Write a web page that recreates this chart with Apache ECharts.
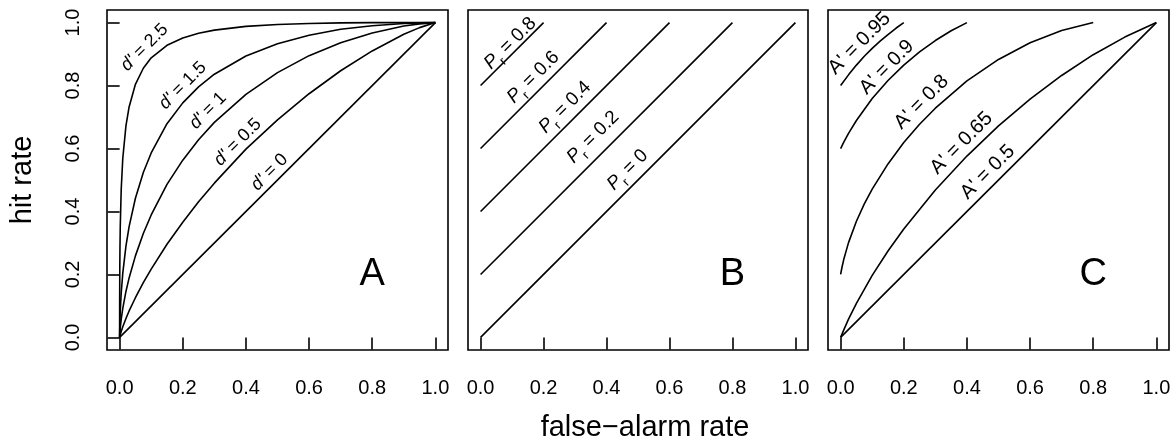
<!DOCTYPE html>
<html>
<head>
<meta charset="utf-8">
<script src="https://cdn.jsdelivr.net/npm/echarts@6/dist/echarts.min.js"></script>
<style>
  html, body { margin: 0; padding: 0; background: #fff; }
  #chart { width: 1175px; height: 447px; }
</style>
</head>
<body>
<div id="chart"></div>
<script>
// tick positions shared by every axis
const tickValues = [0, 0.2, 0.4, 0.6, 0.8, 1];

// panel A: ROC curves for several d'
const faGrid = [0, 0.00001, 0.0001, 0.0005, 0.001, 0.002, 0.005, 0.01, 0.02, 0.03, 0.05, 0.075, 0.1, 0.15, 0.2, 0.25, 0.3, 0.4, 0.5, 0.6, 0.7, 0.8, 0.9, 0.95, 1];
const hitD25 = [0, 0.039, 0.111, 0.215, 0.278, 0.353, 0.470, 0.569, 0.672, 0.732, 0.804, 0.855, 0.888, 0.928, 0.951, 0.966, 0.976, 0.988, 0.994, 0.997, 0.999, 1, 1, 1, 1];
const hitD15 = [0, 0.0028, 0.013, 0.037, 0.056, 0.084, 0.141, 0.204, 0.290, 0.352, 0.442, 0.524, 0.586, 0.679, 0.745, 0.796, 0.836, 0.894, 0.933, 0.960, 0.979, 0.990, 0.997, 0.999, 1];
const hitD10 = [0, 0.0005, 0.0033, 0.011, 0.018, 0.030, 0.058, 0.092, 0.146, 0.189, 0.259, 0.330, 0.389, 0.486, 0.563, 0.628, 0.683, 0.772, 0.841, 0.895, 0.936, 0.967, 0.989, 0.996, 1];
const hitD05 = [0, 0.0001, 0.0006, 0.0026, 0.005, 0.0087, 0.019, 0.034, 0.060, 0.084, 0.126, 0.174, 0.217, 0.296, 0.366, 0.431, 0.490, 0.598, 0.691, 0.774, 0.847, 0.910, 0.963, 0.984, 1];
const diagFa = [0, 1];
const diagHit = [0, 1];

const dLabels = ['2.5', '1.5', '1', '0.5', '0'];
const dLabelFa = [0.079, 0.20, 0.28, 0.374, 0.475];
const dLabelHit = [0.921, 0.80, 0.72, 0.62, 0.525];

// panel B: Pr lines, start and end points
const prStartFa = [0, 0, 0, 0, 0];
const prStartHit = [0, 0.2, 0.4, 0.6, 0.8];
const prEndFa = [1, 0.8, 0.6, 0.4, 0.2];
const prEndHit = [1, 1, 1, 1, 1];

const prLabels = ['0.8', '0.6', '0.4', '0.2', '0'];
const prLabelFa = [0.094, 0.167, 0.268, 0.357, 0.467];
const prLabelHit = [0.934, 0.826, 0.731, 0.636, 0.532];

// panel C: A' iso-curves
const a95Fa = [0, 0.025, 0.05, 0.075, 0.1, 0.125, 0.15, 0.175, 0.2];
const a95Hit = [0.8, 0.834, 0.865, 0.893, 0.918, 0.941, 0.962, 0.982, 1];
const a90Fa = [0, 0.01, 0.025, 0.05, 0.1, 0.15, 0.2, 0.25, 0.3, 0.35, 0.4];
const a90Hit = [0.6, 0.620, 0.648, 0.689, 0.759, 0.816, 0.865, 0.907, 0.943, 0.974, 1];
const a80Fa = [0, 0.002, 0.005, 0.01, 0.025, 0.05, 0.075, 0.1, 0.15, 0.2, 0.25, 0.3, 0.4, 0.5, 0.6, 0.7, 0.8];
const a80Hit = [0.2, 0.211, 0.226, 0.248, 0.301, 0.369, 0.424, 0.471, 0.551, 0.619, 0.677, 0.728, 0.815, 0.883, 0.936, 0.975, 1];
const a65Fa = [0, 0.01, 0.025, 0.05, 0.1, 0.15, 0.2, 0.3, 0.4, 0.5, 0.6, 0.7, 0.8, 0.9, 1];
const a65Hit = [0, 0.024, 0.058, 0.108, 0.197, 0.2745, 0.3445, 0.468, 0.576, 0.672, 0.757, 0.832, 0.898, 0.954, 1];

const aLabels = ['0.95', '0.9', '0.8', '0.65', '0.5'];
const aLabelFa = [0.06, 0.146, 0.256, 0.383, 0.466];
const aLabelHit = [0.934, 0.858, 0.747, 0.617, 0.525];

const panelLetters = ['A', 'B', 'C'];
const letterFa = 0.8;
const letterHit = 0.2;

const FONT = '"Liberation Sans", Arial, Helvetica, sans-serif';

const zip = (xs, ys) => xs.map((x, i) => [x, ys[i]]);

const curve = (idx, xs, ys) => ({
    type: 'line',
    xAxisIndex: idx,
    yAxisIndex: idx,
    data: zip(xs, ys),
    showSymbol: false,
    symbol: 'none',
    lineStyle: { color: '#000', width: 1.6 },
    silent: true,
    z: 2,
});

// text placed at data coordinates, drawn by a custom series
const textSeries = (idx, xs, ys, texts, opts) => ({
    type: 'custom',
    xAxisIndex: idx,
    yAxisIndex: idx,
    silent: true,
    z: 5,
    data: zip(xs, ys),
    renderItem: (params, api) => {
        const pt = api.coord([api.value(0), api.value(1)]);
        return {
            type: 'text',
            x: pt[0],
            y: pt[1],
            rotation: opts.rotation || 0,
            style: {
                text: opts.fmt(texts[params.dataIndex]),
                fill: '#000',
                fontFamily: FONT,
                fontSize: opts.size,
                align: 'center',
                verticalAlign: 'middle',
                rich: opts.rich || {},
            },
        };
    },
});

const richFor = size => ({
    it: { fontStyle: 'italic', fontSize: size, fontFamily: FONT, fill: '#000', lineHeight: size + 10 },
    sub: { fontSize: Math.round(size * 0.7), fontFamily: FONT, fill: '#000', verticalAlign: 'bottom', lineHeight: Math.round(size * 0.7) },
    n: { fontSize: size, fontFamily: FONT, fill: '#000', lineHeight: size + 10 },
});

const gridBoxes = [
    { left: 107, top: 10, width: 341, height: 340 },
    { left: 468, top: 10, width: 340, height: 340 },
    { left: 828, top: 10, width: 341, height: 340 },
];

const option = {
    animation: false,
    backgroundColor: '#fff',
    grid: gridBoxes.map(g => ({ ...g, show: true, borderColor: '#000', borderWidth: 1.6, backgroundColor: 'transparent' })),
    xAxis: gridBoxes.map((g, i) => ({
        type: 'value',
        gridIndex: i,
        min: -0.04,
        max: 1.04,
        axisLine: { show: false },
        splitLine: { show: false },
        axisTick: { show: true, customValues: tickValues, length: 12, lineStyle: { color: '#000', width: 1.6 } },
        axisLabel: {
            customValues: tickValues,
            formatter: v => v.toFixed(1),
            fontSize: 20,
            fontFamily: FONT,
            color: '#000',
            margin: 28,
        },
    })),
    yAxis: gridBoxes.map((g, i) => ({
        type: 'value',
        gridIndex: i,
        min: -0.04,
        max: 1.04,
        show: i === 0,
        name: i === 0 ? 'hit rate' : '',
        nameLocation: 'middle',
        nameGap: 70,
        nameTextStyle: { fontSize: 29, fontFamily: FONT, color: '#000' },
        axisLine: { show: false },
        splitLine: { show: false },
        axisTick: { show: true, customValues: tickValues, length: 12, lineStyle: { color: '#000', width: 1.6 } },
        axisLabel: {
            customValues: tickValues,
            formatter: v => v.toFixed(1),
            fontSize: 20,
            fontFamily: FONT,
            color: '#000',
            rotate: 90,
            margin: 24,
        },
    })),
    graphic: [{
        type: 'text',
        x: 645,
        y: 428,
        style: {
            text: 'false\u2212alarm rate',
            fontSize: 29,
            fontFamily: FONT,
            fill: '#000',
            align: 'center',
            verticalAlign: 'middle',
        },
    }],
    series: [
        curve(0, faGrid, hitD25),
        curve(0, faGrid, hitD15),
        curve(0, faGrid, hitD10),
        curve(0, faGrid, hitD05),
        curve(0, diagFa, diagHit),
        textSeries(0, dLabelFa, dLabelHit, dLabels, {
            rotation: Math.PI / 4, size: 18, rich: richFor(18),
            fmt: t => '{it|d\'}{n| = ' + t + '}',
        }),

        ...prStartFa.map((x, i) => curve(1, [x, prEndFa[i]], [prStartHit[i], prEndHit[i]])),
        textSeries(1, prLabelFa, prLabelHit, prLabels, {
            rotation: Math.PI / 4, size: 19, rich: richFor(19),
            fmt: t => '{it|P}{sub|r}{n| = ' + t + '}',
        }),

        curve(2, a95Fa, a95Hit),
        curve(2, a90Fa, a90Hit),
        curve(2, a80Fa, a80Hit),
        curve(2, a65Fa, a65Hit),
        curve(2, diagFa, diagHit),
        textSeries(2, aLabelFa, aLabelHit, aLabels, {
            rotation: Math.PI / 4, size: 20, rich: richFor(20),
            fmt: t => '{n|A\' = ' + t + '}',
        }),

        ...[0, 1, 2].map(i => textSeries(i, [letterFa], [letterHit], [panelLetters[i]], {
            size: 38, fmt: t => t,
        })),
    ],
};

const chart = echarts.init(document.getElementById('chart'));
chart.setOption(option);
</script>
</body>
</html>
